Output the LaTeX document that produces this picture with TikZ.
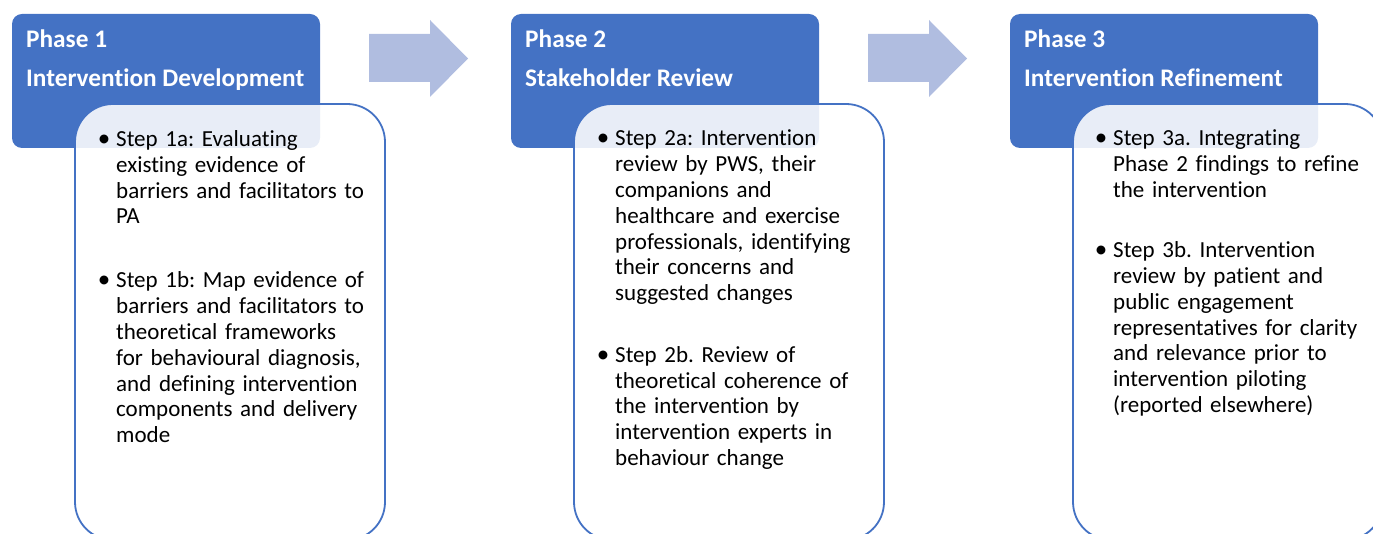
\documentclass[tikz,border=0pt]{standalone}
\usepackage{fontspec}
\setmainfont{Carlito}[Ligatures=NoCommon]
\frenchspacing
\definecolor{hdrblue}{HTML}{4472C4}
\definecolor{arrblue}{HTML}{B0BDE0}
\tikzset{
  header/.style={fill=hdrblue, draw=none, rounded corners=10pt},
  stepbox/.style={fill=white, fill opacity=0.88, draw=hdrblue, line width=1.8pt, rounded corners=38pt},
  bigarrow/.style={fill=arrblue, draw=none},
  htext/.style={anchor=base west, inner sep=0pt, text=white, font=\fontsize{25.3}{30}\selectfont\bfseries\frenchspacing},
  btext/.style={anchor=base west, inner sep=0pt, text width=300pt, align=left, font=\fontsize{23}{25.8}\selectfont\frenchspacing},
  bullet/.style={anchor=base, inner sep=0pt, font=\fontsize{25}{25.8}\selectfont}
}
\begin{document}
\begin{tikzpicture}[x=1pt,y=-1pt]
\useasboundingbox (0,0) rectangle (1373,534);
\clip (0,0) rectangle (1373,534);
% arrows
\path[bigarrow] (369,34) -- (430,34) -- (430,20) -- (468,58.5) -- (430,97) -- (430,82) -- (369,82) -- cycle;
\path[bigarrow] (868,34) -- (929,34) -- (929,20) -- (967,58.5) -- (929,97) -- (929,82) -- (868,82) -- cycle;
% phase 1
\path[header] (12,14) rectangle (320,148);
\node[htext] (p1a) at (26,48) {Phase 1};
\node[htext] (p1b) at (26,87) {Intervention Development};
\path[stepbox] (75,104) rectangle (385,540);
\node[bullet] (b1a) at (104,146.5) {•};
\node[btext] (s1a) at (116,146.5) {Step 1a: Evaluating\\existing evidence of\\barriers and facilitators to\\PA};
\node[bullet] (b1b) at (104,288) {•};
\node[btext] (s1b) at (116,288) {Step 1b: Map evidence of\\barriers and facilitators to\\theoretical frameworks\\for behavioural diagnosis,\\and defining intervention\\components and delivery\\mode};
% phase 2
\path[header] (511,14) rectangle (819,148);
\node[htext] (p2a) at (525,48) {Phase 2};
\node[htext] (p2b) at (525,87) {Stakeholder Review};
\path[stepbox] (574,104) rectangle (884,540);
\node[bullet] (b2a) at (603,146) {•};
\node[btext] (s2a) at (615,146) {Step 2a: Intervention\\review by PWS, their\\companions and\\healthcare and exercise\\professionals, identifying\\their concerns and\\suggested changes};
\node[bullet] (b2b) at (603,362.3) {•};
\node[btext] (s2b) at (615,362.3) {Step 2b. Review of\\theoretical coherence of\\the intervention by\\intervention experts in\\behaviour change};
% phase 3
\path[header] (1010,14) rectangle (1318,148);
\node[htext] (p3a) at (1024,48) {Phase 3};
\node[htext] (p3b) at (1024,87) {Intervention Refinement};
\path[stepbox] (1073,104) rectangle (1383,540);
\node[bullet] (b3a) at (1101,146) {•};
\node[btext] (s3a) at (1113,146) {Step 3a. Integrating\\Phase 2 findings to refine\\the intervention};
\node[bullet] (b3b) at (1101,257.7) {•};
\node[btext] (s3b) at (1113,257.7) {Step 3b. Intervention\\review by patient and\\public engagement\\representatives for clarity\\and relevance prior to\\intervention piloting\\(reported elsewhere)};
\end{tikzpicture}
\end{document}
